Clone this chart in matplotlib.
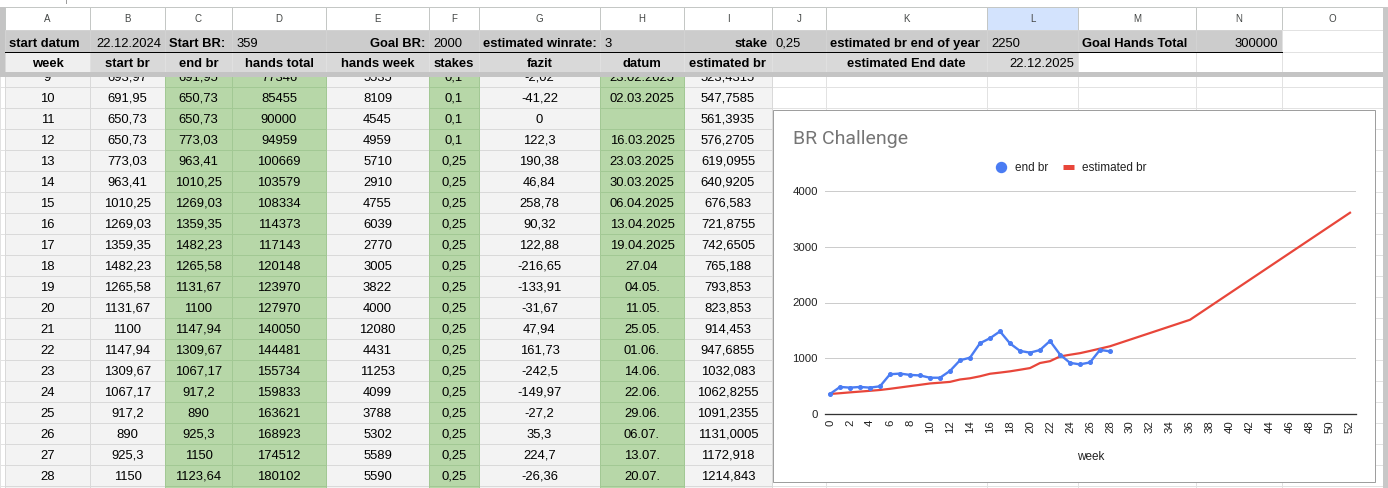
import matplotlib
matplotlib.use('Agg')
import matplotlib.pyplot as plt
from matplotlib.patches import Rectangle
from matplotlib.lines import Line2D

# --- sheet data (rows 9..28, row 9 sits half under the frozen header) ---
weeks = list(range(9, 29))
start_br = ['693,97', '691,95', '650,73', '650,73', '773,03', '963,41', '1010,25', '1269,03', '1359,35', '1482,23',
            '1265,58', '1131,67', '1100', '1147,94', '1309,67', '1067,17', '917,2', '890', '925,3', '1150']
end_br = ['691,95', '650,73', '650,73', '773,03', '963,41', '1010,25', '1269,03', '1359,35', '1482,23', '1265,58',
          '1131,67', '1100', '1147,94', '1309,67', '1067,17', '917,2', '890', '925,3', '1150', '1123,64']
hands_total = ['77346', '85455', '90000', '94959', '100669', '103579', '108334', '114373', '117143', '120148',
               '123970', '127970', '140050', '144481', '155734', '159833', '163621', '168923', '174512', '180102']
hands_week = ['5535', '8109', '4545', '4959', '5710', '2910', '4755', '6039', '2770', '3005',
              '3822', '4000', '12080', '4431', '11253', '4099', '3788', '5302', '5589', '5590']
stakes = ['0,1', '0,1', '0,1', '0,1', '0,25', '0,25', '0,25', '0,25', '0,25', '0,25',
          '0,25', '0,25', '0,25', '0,25', '0,25', '0,25', '0,25', '0,25', '0,25', '0,25']
fazit = ['-2,02', '-41,22', '0', '122,3', '190,38', '46,84', '258,78', '90,32', '122,88', '-216,65',
         '-133,91', '-31,67', '47,94', '161,73', '-242,5', '-149,97', '-27,2', '35,3', '224,7', '-26,36']
datum = ['23.02.2025', '02.03.2025', '', '16.03.2025', '23.03.2025', '30.03.2025', '06.04.2025', '13.04.2025',
         '19.04.2025', '27.04', '04.05.', '11.05.', '25.05.', '01.06.', '14.06.', '22.06.', '29.06.', '06.07.',
         '13.07.', '20.07.']
est_br = ['523,4315', '547,7585', '561,3935', '576,2705', '619,0955', '640,9205', '676,583', '721,8755',
          '742,6505', '765,188', '793,853', '823,853', '914,453', '947,6855', '1032,083', '1062,8255',
          '1091,2355', '1131,0005', '1172,918', '1214,843']

# frozen header rows: (column, text, align, bold)
row1 = [('A', 'start datum', 'left', True), ('B', '22.12.2024', 'right', False),
        ('C', 'Start BR:', 'left', True), ('D', '359', 'left', False),
        ('E', 'Goal BR:', 'right', True), ('F', '2000', 'left', False),
        ('G', 'estimated winrate:', 'left', True), ('H', '3', 'left', False),
        ('I', 'stake', 'right', True), ('J', '0,25', 'left', False),
        ('K', 'estimated br end of year', 'left', True), ('L', '2250', 'left', False),
        ('M', 'Goal Hands Total', 'left', True), ('N', '300000', 'right', False)]
row2 = [('A', 'week', 'center', True), ('B', 'start br', 'center', True), ('C', 'end br', 'center', True),
        ('D', 'hands total', 'center', True), ('E', 'hands week', 'center', True), ('F', 'stakes', 'center', True),
        ('G', 'fazit', 'center', True), ('H', 'datum', 'center', True), ('I', 'estimated br', 'center', True),
        ('K', 'estimated End date', 'center', True), ('L', '22.12.2025', 'right', False)]

# --- chart data ---
early_weeks = [0, 1, 2, 3, 4, 5, 6, 7, 8]
early_end_br = [359, 485, 473, 485, 473, 497, 713, 725, 701]
early_est_br = [359, 373, 388, 402, 416, 431, 452, 476, 500]
late_weeks = [36, 52]
late_est_br = [1690, 3610]

W, H = 1388, 488
fig = plt.figure(figsize=(W / 100, H / 100), dpi=100)
sh = fig.add_axes([0, 0, 1, 1])
sh.set_xlim(0, W)
sh.set_ylim(H, 0)
sh.axis('off')

letters = 'ABCDEFGHIJKLMNO'
edges = [5, 90, 165, 232, 326, 429, 479, 600, 684, 772, 826, 987, 1078, 1196, 1282, 1383]
col = {c: (edges[i], edges[i + 1]) for i, c in enumerate(letters)}
px = 0.72  # one pixel in points
SF = 'Liberation Sans'
fs = 9.4

gray_cols = 'ABEGI'
green_cols = 'CDFH'


def rect(x0, y0, x1, y1, fc, ec='none', z=1, lw=px):
    sh.add_patch(Rectangle((x0, y0), x1 - x0, y1 - y0, facecolor=fc, edgecolor=ec, lw=lw, zorder=z))


# data rows
row_h = 21
top0 = 66
for i, wk in enumerate(weeks + [29]):
    y0 = top0 + i * row_h
    y1 = y0 + row_h
    rect(0, y0, 5, y1, 'white', '#e2e2e2', 1)
    for c in letters:
        x0, x1 = col[c]
        if c in gray_cols:
            rect(x0, y0, x1, y1, '#f3f3f3', '#d9d9d9', 1.2)
        elif c in green_cols:
            rect(x0, y0, x1, y1, '#b7d7a8', '#a2c894', 1.3)
        else:
            rect(x0, y0, x1, y1, 'white', '#e2e2e2', 1.1)
    if wk == 29:
        continue
    vals = [str(wk), start_br[i], end_br[i], hands_total[i], hands_week[i], stakes[i],
            fazit[i], datum[i], est_br[i]]
    for c, v in zip('ABCDEFGHI', vals):
        x0, x1 = col[c]
        sh.text((x0 + x1) / 2, y1 - 6.3, v, ha='center', va='baseline', family=SF,
                fontsize=fs, color='#000000', zorder=3)

# frozen header block
rect(0, 0, W, 77, 'white', z=5)
sh.plot([66, 66], [0, 3], color='#9e9e9e', lw=px, zorder=6)
sh.plot([0, 1383], [7, 7], color='#c4c7c5', lw=px, zorder=6)
for c in letters:
    x0, x1 = col[c]
    rect(x0, 7, x1, 30, '#d3e3fd' if c == 'L' else 'white', '#c4c7c5', 6)
    sh.text((x0 + x1) / 2, 21.7, c, ha='center', va='baseline', family=SF, fontsize=7,
            color='#444746', zorder=7)
    if c != 'O':
        rect(x0, 30, x1, 52, '#cccccc', '#d2d2d2', 6)
    else:
        rect(x0, 30, x1, 52, 'white', '#e2e2e2', 6)
    if c == 'A':
        rect(x0, 52, x1, 72, '#efefef', '#d9d9d9', 6)
    elif c in 'MNO':
        rect(x0, 52, x1, 72, 'white', '#e2e2e2', 6)
    else:
        rect(x0, 52, x1, 72, '#d9d9d9', '#e0e0e0', 6)
sh.plot([5, 1282], [52, 52], color='black', lw=px, zorder=7)
rect(0, 72, 1383, 77, '#c4c4c4', z=7)
rect(0, 7, 5, 77, '#c4c4c4', z=7)
rect(1383, 7, W, H, '#c8c8c8', z=7)


def header_text(items, y_base):
    for c, t, al, bold in items:
        x0, x1 = col[c]
        if al == 'left':
            x = x0 + 4
        elif al == 'right':
            x = x1 - 4
        else:
            x = (x0 + x1) / 2
        sh.text(x, y_base, t, ha=al, va='baseline', family=SF, fontsize=fs,
                fontweight='bold' if bold else 'normal', color='black', zorder=8)


header_text(row1, 46.7)
header_text(row2, 66.7)

# embedded chart
rect(773, 110, 1375, 482, 'white', '#9e9e9e', 10)
sh.text(793, 139, 'BR Challenge', ha='left', va='center', family='Roboto', fontsize=14,
        color='#757575', zorder=11)

ax_l, ax_r, ax_t, ax_b = 825, 1356, 191, 414
ax = fig.add_axes([ax_l / W, 1 - ax_b / H, (ax_r - ax_l) / W, (ax_b - ax_t) / H])
blue = '#4a7cf3'
red = '#e8463a'

end_vals = early_end_br + [float(v.replace(',', '.')) for v in end_br]
end_weeks = early_weeks + weeks
est_vals = early_est_br + [float(v.replace(',', '.')) for v in est_br] + late_est_br
est_weeks = early_weeks + weeks + late_weeks

ax.plot(est_weeks, est_vals, color=red, lw=1.6, zorder=3, solid_joinstyle='round')
ax.plot(end_weeks, end_vals, color=blue, lw=1.7, marker='o', markersize=2.6, zorder=4)

ax.set_xlim(-0.5, 52.6)
ax.set_ylim(0, 4000)
ax.set_xticks(range(0, 53, 2))
ax.set_xticklabels([str(w) for w in range(0, 53, 2)], rotation=90, va='top', ha='center')
ax.set_yticks([0, 1000, 2000, 3000, 4000])
ax.tick_params(axis='both', length=0, labelsize=8.2, labelcolor='#222222')
ax.tick_params(axis='x', pad=4.3)
ax.tick_params(axis='y', pad=5)
for lab in ax.get_xticklabels() + ax.get_yticklabels():
    lab.set_family(SF)
ax.grid(axis='y', color='#cccccc', lw=px)
ax.set_axisbelow(True)
for s in ['top', 'right', 'left']:
    ax.spines[s].set_visible(False)
ax.spines['bottom'].set_color('#333333')
ax.spines['bottom'].set_linewidth(px * 1.3)
ax.set_xlabel('week', family=SF, fontsize=8.5, color='#222222')
ax.xaxis.set_label_coords(0.5, (ax_b - 457) / (ax_b - ax_t))
ax.xaxis.label.set_va('center')

handles = [Line2D([], [], color=blue, marker='o', ls='None', markersize=7.2),
           Line2D([], [], color=red, lw=3.6, solid_capstyle='butt')]
leg = ax.legend(handles, ['end br', 'estimated br'], loc='center left',
                bbox_to_anchor=(996 / W, 1 - 168 / H), bbox_transform=fig.transFigure,
                ncol=2, frameon=False, handlelength=0.9, handletextpad=0.7,
                columnspacing=1.3, borderpad=0, borderaxespad=0,
                prop={'family': SF, 'size': 8.5})
for t in leg.get_texts():
    t.set_color('#222222')

fig.savefig('out.png', dpi=100)
